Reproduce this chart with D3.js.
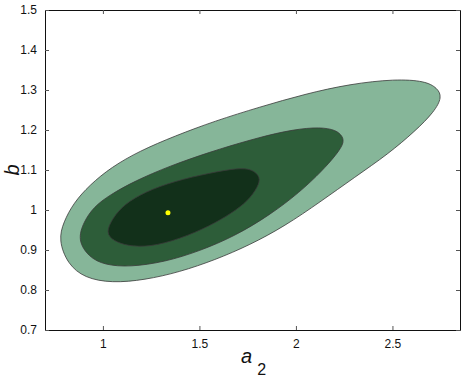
<!DOCTYPE html>
<html><head><meta charset="utf-8">
<script src="https://cdn.jsdelivr.net/npm/d3@7"></script>
<style>html,body{margin:0;padding:0;background:#fff;}svg{display:block;}</style>
</head><body>
<svg id="chart" width="463" height="379"></svg>
<script>
const xTicks = [1, 1.5, 2, 2.5];
const xTickLabels = ["1", "1.5", "2", "2.5"];
const yTicks = [0.7, 0.8, 0.9, 1.0, 1.1, 1.2, 1.3, 1.4, 1.5];
const yTickLabels = ["0.7", "0.8", "0.9", "1", "1.1", "1.2", "1.3", "1.4", "1.5"];

// contour outlines in data coordinates [a2, b] (control points of a smooth closed curve)
const outerContour = [[0.770,0.925],[0.796,0.97],[0.848,1.0175],[0.931,1.0625],[1.045,1.1075],[1.190,1.1475],[1.372,1.185],[1.580,1.2225],[1.813,1.2575],[2.047,1.29],[2.280,1.315],[2.514,1.3275],[2.670,1.3225],[2.732,1.305],[2.758,1.2825],[2.716,1.245],[2.618,1.1975],[2.478,1.14],[2.306,1.0825],[2.125,1.02],[1.943,0.96],[1.761,0.9125],[1.580,0.875],[1.398,0.845],[1.216,0.825],[1.045,0.8175],[0.905,0.83],[0.817,0.865]];
const middleContour = [[0.869,0.925],[0.900,0.97],[0.952,1.0075],[1.035,1.0375],[1.165,1.0725],[1.346,1.11],[1.554,1.145],[1.761,1.175],[1.943,1.1975],[2.099,1.2075],[2.192,1.2025],[2.234,1.19],[2.254,1.17],[2.208,1.1375],[2.135,1.0975],[2.021,1.045],[1.865,0.9875],[1.684,0.935],[1.502,0.8975],[1.320,0.87],[1.139,0.8575],[1.009,0.8625],[0.926,0.8825]];
const innerContour = [[1.014,0.9425],[1.050,0.98],[1.113,1.015],[1.216,1.045],[1.372,1.0725],[1.554,1.0925],[1.699,1.105],[1.772,1.1025],[1.818,1.0825],[1.803,1.0575],[1.751,1.0225],[1.668,0.9925],[1.554,0.96],[1.398,0.9275],[1.242,0.9075],[1.128,0.91],[1.056,0.9225]];
const bestFit = [1.337, 0.993];

const contours = [
  {pts: outerContour, fill: "#86b699"},
  {pts: middleContour, fill: "#2d5d39"},
  {pts: innerContour, fill: "#12301a"}
];

const L = 45, R = 460, T = 10, B = 330;
const x = d3.scaleLinear().domain([0.7, 2.85]).range([L, R]);
const y = d3.scaleLinear().domain([0.7, 1.5]).range([B, T]);
const svg = d3.select("#chart");

const line = d3.line().x(d => x(d[0])).y(d => y(d[1])).curve(d3.curveBasisClosed);
svg.append("g").selectAll("path").data(contours).join("path")
  .attr("d", d => line(d.pts))
  .attr("fill", d => d.fill)
  .attr("stroke", "#3a3a3a")
  .attr("stroke-width", 0.8);

svg.append("circle").attr("cx", x(bestFit[0])).attr("cy", y(bestFit[1])).attr("r", 2.5).attr("fill", "#ffff00");

const font = "Liberation Sans, Arial, sans-serif";
const xAxisB = d3.axisBottom(x).tickValues(xTicks).tickFormat((d,i) => xTickLabels[i]).tickSizeInner(-4).tickSizeOuter(0).tickPadding(9);
const xAxisT = d3.axisTop(x).tickValues(xTicks).tickFormat("").tickSizeInner(-4).tickSizeOuter(0);
const yAxisL = d3.axisLeft(y).tickValues(yTicks).tickFormat((d,i) => yTickLabels[i]).tickSizeInner(-4).tickSizeOuter(0).tickPadding(8);
const yAxisR = d3.axisRight(y).tickValues(yTicks).tickFormat("").tickSizeInner(-4).tickSizeOuter(0);

function style(g){
  g.selectAll("path.domain").attr("stroke", "#111").attr("stroke-width", 1);
  g.selectAll(".tick line").attr("stroke", "#555");
  g.selectAll(".tick text").attr("fill", "#111").style("font-family", font).style("font-size", "12px");
}
svg.append("g").attr("transform", `translate(0,${B})`).call(xAxisB).call(style);
svg.append("g").attr("transform", `translate(0,${T})`).call(xAxisT).call(style);
svg.append("g").attr("transform", `translate(${L},0)`).call(yAxisL).call(style);
svg.append("g").attr("transform", `translate(${R},0)`).call(yAxisR).call(style);

svg.append("text").attr("transform", "translate(19,170) rotate(-90)")
  .attr("text-anchor", "middle").style("font-family", font).style("font-size", "20px").style("font-style", "italic").attr("fill", "#111").text("b");
const xl = svg.append("text").attr("x", 241).attr("y", 363).style("font-family", font).style("font-size", "20px").attr("fill", "#111");
xl.append("tspan").style("font-style", "italic").text("a");
xl.append("tspan").attr("dx", 5).attr("dy", 12).style("font-size", "16px").text("2");
</script>
</body></html>
